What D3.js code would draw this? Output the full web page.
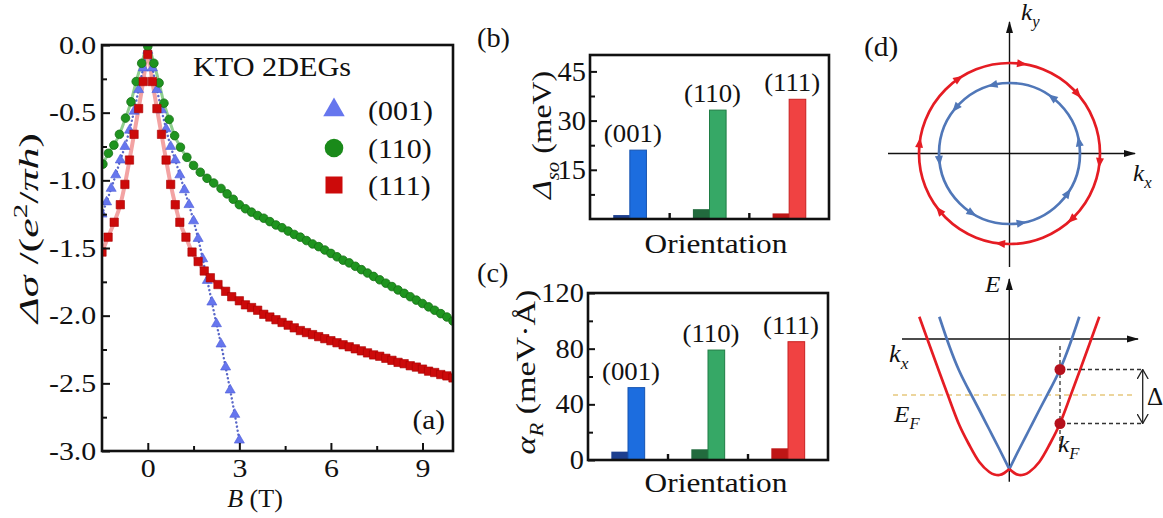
<!DOCTYPE html>
<html>
<head>
<meta charset="utf-8">
<script src="https://cdn.jsdelivr.net/npm/d3@7"></script>
<style>
  body { margin: 0; background: #fff; }
  text { font-family: "Liberation Serif", "Times New Roman", serif; fill: #111; }
</style>
</head>
<body>
<svg id="fig" width="1163" height="518"></svg>
<script>
// ---------- panel (a): weak antilocalization curves ----------
var field001 = [-1.5,-1.35,-1.2,-1.05,-0.9,-0.75,-0.6,-0.45,-0.3,-0.15,0,0.15,0.3,0.45,0.6,0.75,0.9,1.05,1.2,1.35,1.5,1.65,1.8,1.95,2.1,2.25,2.4,2.55,2.7,2.85,3.0];
var sigma001 = [-1.25,-1.16,-1.06,-0.96,-0.85,-0.75,-0.63,-0.49,-0.33,-0.17,-0.04,-0.17,-0.33,-0.48,-0.62,-0.75,-0.85,-0.96,-1.07,-1.18,-1.30,-1.43,-1.58,-1.74,-1.90,-2.06,-2.21,-2.38,-2.55,-2.73,-2.92];

var field110 = [-1.47,-1.29,-1.11,-0.93,-0.73,-0.55,-0.38,-0.2,0,0.2,0.37,0.53,0.7,0.88,1.07,1.28,1.5,1.72,1.94,2.16,2.4,2.6,2.8,3.0,3.2,3.4,3.6,3.8,4.0,4.2,4.4,4.6,4.8,5.0,5.2,5.4,5.6,5.8,6.0,6.2,6.4,6.6,6.8,7.0,7.2,7.4,7.6,7.8,8.0,8.2,8.4,8.6,8.8,9.0,9.2,9.4,9.6,9.8,10.0];
var sigma110 = [-0.88,-0.80,-0.74,-0.66,-0.54,-0.42,-0.27,-0.135,-0.01,-0.135,-0.28,-0.43,-0.55,-0.67,-0.755,-0.83,-0.89,-0.94,-0.985,-1.02,-1.06,-1.10,-1.14,-1.18,-1.21,-1.235,-1.26,-1.28,-1.305,-1.33,-1.35,-1.375,-1.40,-1.42,-1.445,-1.47,-1.49,-1.515,-1.54,-1.565,-1.59,-1.61,-1.635,-1.66,-1.685,-1.71,-1.735,-1.76,-1.785,-1.81,-1.835,-1.86,-1.885,-1.91,-1.935,-1.96,-1.985,-2.01,-2.04];

var field111 = [-1.5,-1.3,-1.1,-0.9,-0.75,-0.6,-0.45,-0.3,-0.15,0,0.15,0.3,0.45,0.6,0.75,0.9,1.05,1.25,1.45,1.65,1.85,2.05,2.3,2.55,2.75,3.0,3.2,3.4,3.6,3.8,4.0,4.2,4.4,4.6,4.8,5.0,5.2,5.4,5.6,5.8,6.0,6.2,6.4,6.6,6.8,7.0,7.2,7.4,7.6,7.8,8.0,8.2,8.4,8.6,8.8,9.0,9.2,9.4,9.6,9.8,10.0];
var sigma111 = [-1.53,-1.42,-1.31,-1.18,-1.03,-0.85,-0.66,-0.47,-0.27,-0.07,-0.27,-0.47,-0.66,-0.85,-1.03,-1.18,-1.31,-1.42,-1.53,-1.60,-1.67,-1.72,-1.77,-1.82,-1.86,-1.89,-1.92,-1.94,-1.96,-1.99,-2.01,-2.03,-2.05,-2.07,-2.09,-2.11,-2.125,-2.14,-2.155,-2.17,-2.185,-2.20,-2.215,-2.23,-2.245,-2.26,-2.275,-2.29,-2.30,-2.315,-2.33,-2.345,-2.355,-2.37,-2.38,-2.395,-2.41,-2.42,-2.435,-2.445,-2.46];

var legendNames = ["(001)", "(110)", "(111)"];
var xTicksA = [0, 3, 6, 9], xMinorA = [1.5, 4.5, 7.5];
var yTicksA = [0, -0.5, -1, -1.5, -2, -2.5, -3], yMinorA = [-0.25, -0.75, -1.25, -1.75, -2.25, -2.75];

// ---------- panels (b), (c): bars ----------
var orientations = ["(001)", "(110)", "(111)"];
var dsoSmall = [1.2, 3.0, 1.7];
var dsoMain = [21, 33.2, 36.5];
var alphaSmall = [6, 7.7, 8.4];
var alphaMain = [52, 79, 85];
var yTicksB = [15, 30, 45], yMinorB = [7.5, 22.5, 37.5];
var yTicksC = [0, 40, 80, 120], yMinorC = [20, 60, 100];

// ---------- panel (d): schematic ----------
var redArrowDeg = [82, 41, -6, -47, -96, -141, 173, 124];
var blueArrowDeg = [104, 53, 10, -34, -80, -122, -174, 140];
var radiusOuter = 0.905, radiusInner = 0.705;
// right half of each band (k >= 0), mirrored for k < 0
var redBandK = [0, 0.05, 0.1, 0.15, 0.2, 0.3, 0.4, 0.5, 0.6, 0.7, 0.8, 0.9];
var redBandE = [-1.30, -1.34, -1.36, -1.355, -1.33, -1.23, -1.06, -0.86, -0.60, -0.33, -0.055, 0.223];
var blueBandK = [0, 0.1, 0.2, 0.3, 0.4, 0.5, 0.6, 0.7];
var blueBandE = [-1.30, -1.10, -0.905, -0.71, -0.52, -0.32, -0.07, 0.223];
var kFermi = 0.507, eSplitUp = -0.305, eSplitDown = -0.845, eFermi = -0.56;

var svg = d3.select("#fig");
svg.append("rect").attr("width", 1163).attr("height", 518).attr("fill", "#fff");

// text helper: parts = string or [{t, i, sub, sup}]
function addText(g, x, y, parts, o) {
    o = o || {};
    var fs = o.size || 27;
    var t = g.append("text").attr("text-anchor", o.anchor || "start").style("font-size", fs + "px");
    if (typeof parts === "string") parts = [{ t: parts }];
    var shift = 0;
    parts.forEach(function (p) {
        var s = t.append("tspan").text(p.t);
        if (p.i) s.style("font-style", "italic");
        var want = p.sub ? fs * 0.28 : (p.sup ? -fs * 0.38 : 0);
        if (p.sub || p.sup) s.style("font-size", (fs * 0.66) + "px");
        if (want !== shift) { s.attr("dy", want - shift); shift = want; }
    });
    var sx = o.sx || 1.08;
    if (o.width) sx = o.width / t.node().getComputedTextLength();
    t.attr("transform", "translate(" + x + "," + y + ")" + (o.rot ? " rotate(" + o.rot + ")" : "") + " scale(" + sx + ",1)");
    return t;
}

function styleAxis(ax, fs, sx) {
    ax.select(".domain").remove();
    ax.selectAll("line").attr("stroke", "#111").attr("stroke-width", 2);
    ax.selectAll("text").style("font-size", fs + "px").style("font-family", "Liberation Serif")
        .attr("fill", "#111").attr("transform", "scale(" + sx + ",1)");
}

// ================= (a) =================
var ga = svg.append("g");
var xa = d3.scaleLinear().domain([-1.5, 10]).range([102, 453]);
var ya = d3.scaleLinear().domain([-3, 0]).range([451, 45]);

svg.append("defs").append("clipPath").attr("id", "clipA")
    .append("rect").attr("x", 102).attr("y", 45).attr("width", 351).attr("height", 406);

var plotA = ga.append("g").attr("clip-path", "url(#clipA)");
var pts001 = field001.map(function (b, i) { return [b, sigma001[i]]; });
var pts110 = field110.map(function (b, i) { return [b, sigma110[i]]; });
var pts111 = field111.map(function (b, i) { return [b, sigma111[i]]; });
var lineA = d3.line().x(function (d) { return xa(d[0]); }).y(function (d) { return ya(d[1]); }).curve(d3.curveMonotoneX);

plotA.append("path").attr("d", lineA(pts111)).attr("fill", "none").attr("stroke", "#f3a3a3").attr("stroke-width", 4);
plotA.append("path").attr("d", lineA(pts110)).attr("fill", "none").attr("stroke", "#8fcf8f").attr("stroke-width", 3);
plotA.append("path").attr("d", lineA(pts001)).attr("fill", "none").attr("stroke", "#5a68c8")
    .attr("stroke-width", 2.4).attr("stroke-dasharray", "0.1,4").attr("stroke-linecap", "round");

plotA.selectAll(".tri").data(pts001).join("path").attr("class", "tri")
    .attr("transform", function (d) { return "translate(" + xa(d[0]) + "," + ya(d[1]) + ")"; })
    .attr("d", d3.symbol(d3.symbolTriangle, 44)).attr("fill", "#6676ee").attr("stroke", "#4b5ad6").attr("stroke-width", 0.6);
plotA.selectAll(".cir").data(pts110).join("circle").attr("class", "cir")
    .attr("cx", function (d) { return xa(d[0]); }).attr("cy", function (d) { return ya(d[1]); })
    .attr("r", 4.3).attr("fill", "#1f941f").attr("stroke", "#157015").attr("stroke-width", 0.8);
plotA.selectAll(".sq").data(pts111).join("path").attr("class", "sq")
    .attr("transform", function (d) { return "translate(" + xa(d[0]) + "," + ya(d[1]) + ")"; })
    .attr("d", d3.symbol(d3.symbolSquare, 70)).attr("fill", "#cc0a0a").attr("stroke", "#a80000").attr("stroke-width", 0.6);

var axYa = ga.append("g").attr("transform", "translate(102,0)")
    .call(d3.axisLeft(ya).tickValues(yTicksA).tickSize(-8).tickPadding(5).tickFormat(function (d) { return d.toFixed(1); }));
styleAxis(axYa, 26, 1.15);
var axYam = ga.append("g").attr("transform", "translate(102,0)")
    .call(d3.axisLeft(ya).tickValues(yMinorA).tickSize(-5).tickFormat(""));
styleAxis(axYam, 26, 1);
var axXa = ga.append("g").attr("transform", "translate(0,451)")
    .call(d3.axisBottom(xa).tickValues(xTicksA).tickSize(-8).tickPadding(8).tickFormat(d3.format("d")));
styleAxis(axXa, 26, 1.15);
var axXam = ga.append("g").attr("transform", "translate(0,451)")
    .call(d3.axisBottom(xa).tickValues(xMinorA).tickSize(-5).tickFormat(""));
styleAxis(axXam, 26, 1);
ga.append("rect").attr("x", 102).attr("y", 45).attr("width", 351).attr("height", 406)
    .attr("fill", "none").attr("stroke", "#111").attr("stroke-width", 2.6);

addText(ga, 193, 76, "KTO 2DEGs", { size: 28, sx: 1.08 });
addText(ga, 445, 429, "(a)", { size: 28, anchor: "end", sx: 1.05 });
addText(ga, 255, 507, [{ t: "B", i: true }, { t: " (T)" }], { size: 26, anchor: "middle", sx: 1.0 });
addText(ga, 38, 228, [{ t: "Δσ", i: true }, { t: " /(" }, { t: "e", i: true }, { t: "2", sup: true }, { t: "/" }, { t: "πh", i: true }, { t: ")" }],
    { size: 28, anchor: "middle", rot: -90, width: 190 });

// legend
var legY = [110, 148, 185], legTextY = [120, 158, 195];
var lg = ga.append("g");
lg.append("path").attr("transform", "translate(334," + legY[0] + ")").attr("d", d3.symbol(d3.symbolTriangle, 200)).attr("fill", "#6676ee");
lg.append("circle").attr("cx", 334).attr("cy", legY[1]).attr("r", 9.3).attr("fill", "#1a8a1a");
lg.append("rect").attr("x", 325.5).attr("y", legY[2] - 8.5).attr("width", 17).attr("height", 17).attr("fill", "#cc0a0a");
legendNames.forEach(function (n, i) { addText(lg, 368, legTextY[i], n, { size: 28, sx: 1.07 }); });

// ================= (b) and (c) =================
var barColors = [
    { small: "#1d3f8f", main: "#1c6ddf", edge: "#1553b0" },
    { small: "#226b3e", main: "#36a866", edge: "#1f7d45" },
    { small: "#bf1616", main: "#f04242", edge: "#c82020" }
];

function barPanel(left, right, top, bottom, dom, mainVals, smallVals, ticks, minor, tag, tagY, labelParts, labelX, labelY, labelW, orientY) {
    var g = svg.append("g");
    var x0 = d3.scaleBand().domain(orientations).range([left, right]);
    var x1 = d3.scaleBand().domain(["small", "main"]).range([0, x0.bandwidth()]).paddingInner(0).paddingOuter(1.4);
    var y = d3.scaleLinear().domain(dom).range([bottom, top]);

    orientations.forEach(function (o, i) {
        var gx = x0(o);
        g.append("rect").attr("x", gx + x1("small")).attr("y", y(smallVals[i]))
            .attr("width", x1.bandwidth()).attr("height", y(0) - y(smallVals[i]))
            .attr("fill", barColors[i].small);
        g.append("rect").attr("x", gx + x1("main")).attr("y", y(mainVals[i]))
            .attr("width", x1.bandwidth()).attr("height", y(0) - y(mainVals[i]))
            .attr("fill", barColors[i].main).attr("stroke", barColors[i].edge).attr("stroke-width", 1);
        addText(g, gx + x0.bandwidth() / 2 + 3, y(mainVals[i]) - 8, o, { size: 26, anchor: "middle", sx: 1.03 });
    });

    var ay = g.append("g").attr("transform", "translate(" + left + ",0)")
        .call(d3.axisLeft(y).tickValues(ticks).tickSize(-7).tickPadding(4).tickFormat(d3.format("d")));
    styleAxis(ay, 27, 1.05);
    var aym = g.append("g").attr("transform", "translate(" + left + ",0)")
        .call(d3.axisLeft(y).tickValues(minor).tickSize(-5).tickFormat(""));
    styleAxis(aym, 27, 1);
    g.selectAll(".sep").data(orientations.slice(1)).join("line").attr("class", "sep")
        .attr("x1", function (d) { return x0(d); }).attr("x2", function (d) { return x0(d); })
        .attr("y1", bottom).attr("y2", bottom - 6).attr("stroke", "#111").attr("stroke-width", 2.4);
    g.append("rect").attr("x", left).attr("y", top).attr("width", right - left).attr("height", bottom - top)
        .attr("fill", "none").attr("stroke", "#111").attr("stroke-width", 2.6);

    addText(g, 477, tagY, tag, { size: 27, sx: 1.05 });
    addText(g, labelX, labelY, labelParts, { size: 27, anchor: "middle", rot: -90, width: labelW });
    addText(g, 716, orientY, "Orientation", { size: 28, anchor: "middle", sx: 1.12 });
}

barPanel(590, 829, 55, 219, [0, 50], dsoMain, dsoSmall, yTicksB, yMinorB, "(b)", 47,
    [{ t: "Δ", i: true }, { t: "so", i: true, sub: true }, { t: " (meV)" }], 551, 135, 128, 253);
barPanel(588, 828, 293, 460, [0, 120], alphaMain, alphaSmall, yTicksC, yMinorC, "(c)", 282,
    [{ t: "α", i: true }, { t: "R", i: true, sub: true }, { t: " (meV·Å)" }], 535, 372, 165, 492);

// ================= (d) =================
var gd = svg.append("g");
var defs = svg.select("defs");
defs.append("marker").attr("id", "arrHead").attr("viewBox", "0 0 12 10").attr("refX", 11).attr("refY", 5)
    .attr("markerWidth", 12).attr("markerHeight", 10).attr("markerUnits", "userSpaceOnUse").attr("orient", "auto")
    .append("path").attr("d", "M0,1.5 L12,5 L0,8.5 Z").attr("fill", "#111");
defs.append("marker").attr("id", "openHead").attr("viewBox", "0 0 10 12").attr("refX", 9.5).attr("refY", 6)
    .attr("markerWidth", 10).attr("markerHeight", 12).attr("markerUnits", "userSpaceOnUse").attr("orient", "auto-start-reverse")
    .append("path").attr("d", "M0,0.5 L9.5,6 L0,11.5").attr("fill", "none").attr("stroke", "#222").attr("stroke-width", 1.3);

var RED = "#e51c23", BLUE = "#5077b8";

// top: Fermi contours
var kx = d3.scaleLinear().domain([-1, 1]).range([909.5, 1109.5]);
var ky = d3.scaleLinear().domain([-1, 1]).range([253.5, 53.5]);
gd.append("line").attr("x1", kx(-1.215)).attr("x2", kx(1.255)).attr("y1", ky(0)).attr("y2", ky(0))
    .attr("stroke", "#111").attr("stroke-width", 1.4).attr("marker-end", "url(#arrHead)");
gd.append("line").attr("x1", kx(0)).attr("x2", kx(0)).attr("y1", ky(-1.135)).attr("y2", ky(1.315))
    .attr("stroke", "#111").attr("stroke-width", 1.4).attr("marker-end", "url(#arrHead)");

function contour(r, color, degs, clockwise) {
    gd.append("circle").attr("cx", kx(0)).attr("cy", ky(0)).attr("r", kx(r) - kx(0))
        .attr("fill", "none").attr("stroke", color).attr("stroke-width", 2.7);
    gd.selectAll(null).data(degs).join("path")
        .attr("transform", function (a) {
            var t = a * Math.PI / 180;
            var px = kx(r * Math.cos(t)), py = ky(r * Math.sin(t));
            var dir = clockwise ? Math.atan2(Math.cos(t), Math.sin(t)) : Math.atan2(-Math.cos(t), -Math.sin(t));
            return "translate(" + px + "," + py + ") rotate(" + (dir * 180 / Math.PI) + ")";
        })
        .attr("d", "M5,0 L-5,-4 L-5,4 Z").attr("fill", color);
}
contour(radiusOuter, RED, redArrowDeg, true);
contour(radiusInner, BLUE, blueArrowDeg, false);

addText(gd, 864, 56, "(d)", { size: 28, sx: 1.05 });
addText(gd, 1021, 20, [{ t: "k", i: true }, { t: "y", i: true, sub: true }], { size: 24, sx: 1.05 });
addText(gd, 1133, 181, [{ t: "k", i: true }, { t: "x", i: true, sub: true }], { size: 24, sx: 1.05 });

// bottom: band dispersion
var kb = d3.scaleLinear().domain([-1, 1]).range([909.3, 1109.3]);
var eb = d3.scaleLinear().domain([-1.5, 0.5]).range([489, 289]);

gd.append("line").attr("x1", kb(-1.163)).attr("x2", kb(1.237)).attr("y1", eb(eFermi)).attr("y2", eb(eFermi))
    .attr("stroke", "#e6c77c").attr("stroke-width", 1.5).attr("stroke-dasharray", "5,4");
gd.append("line").attr("x1", kb(-1.073)).attr("x2", kb(1.287)).attr("y1", eb(0)).attr("y2", eb(0))
    .attr("stroke", "#111").attr("stroke-width", 1.4).attr("marker-end", "url(#arrHead)");
gd.append("line").attr("x1", kb(0)).attr("x2", kb(0)).attr("y1", eb(-1.427)).attr("y2", eb(0.6))
    .attr("stroke", "#111").attr("stroke-width", 1.4).attr("marker-end", "url(#arrHead)");

// each band drawn as two smooth halves meeting at k = 0 (crossing point)
var bandLine = d3.line().x(function (d) { return kb(d[0]); }).y(function (d) { return eb(d[1]); }).curve(d3.curveNatural);
function drawBand(ks, es, color) {
    var right = ks.map(function (k, i) { return [k, es[i]]; });
    var left = ks.map(function (k, i) { return [-k, es[i]]; }).reverse();
    [left, right].forEach(function (half) {
        gd.append("path").attr("d", bandLine(half)).attr("fill", "none").attr("stroke", color)
            .attr("stroke-width", 2.7).attr("stroke-linejoin", "round");
    });
}
drawBand(blueBandK, blueBandE, BLUE);
drawBand(redBandK, redBandE, RED);

var dash = { stroke: "#333", w: 1.3, d: "4,3" };
gd.append("line").attr("x1", kb(kFermi)).attr("x2", kb(kFermi)).attr("y1", eb(-0.07)).attr("y2", eb(-1.12))
    .attr("stroke", dash.stroke).attr("stroke-width", dash.w).attr("stroke-dasharray", dash.d);
[eSplitUp, eSplitDown].forEach(function (e) {
    gd.append("line").attr("x1", kb(kFermi)).attr("x2", kb(1.345)).attr("y1", eb(e)).attr("y2", eb(e))
        .attr("stroke", dash.stroke).attr("stroke-width", dash.w).attr("stroke-dasharray", dash.d);
});
gd.append("line").attr("x1", kb(1.334)).attr("x2", kb(1.334)).attr("y1", eb(eSplitUp)).attr("y2", eb(eSplitDown))
    .attr("stroke", "#222").attr("stroke-width", 1.3)
    .attr("marker-start", "url(#openHead)").attr("marker-end", "url(#openHead)");
gd.selectAll(".fdot").data([eSplitUp, eSplitDown]).join("circle").attr("class", "fdot")
    .attr("cx", kb(kFermi)).attr("cy", function (e) { return eb(e); }).attr("r", 5.5).attr("fill", "#b5101c");

addText(gd, 1147, 405, "Δ", { size: 25, sx: 1.0 });
addText(gd, 985, 292, [{ t: "E", i: true }], { size: 24, sx: 1.05 });
addText(gd, 889, 362, [{ t: "k", i: true }, { t: "x", i: true, sub: true }], { size: 25, sx: 1.05 });
addText(gd, 894, 422, [{ t: "E", i: true }, { t: "F", i: true, sub: true }], { size: 24, sx: 1.05 });
addText(gd, 1058, 452, [{ t: "k", i: true }, { t: "F", i: true, sub: true }], { size: 24, sx: 1.05 });
</script>
</body>
</html>
